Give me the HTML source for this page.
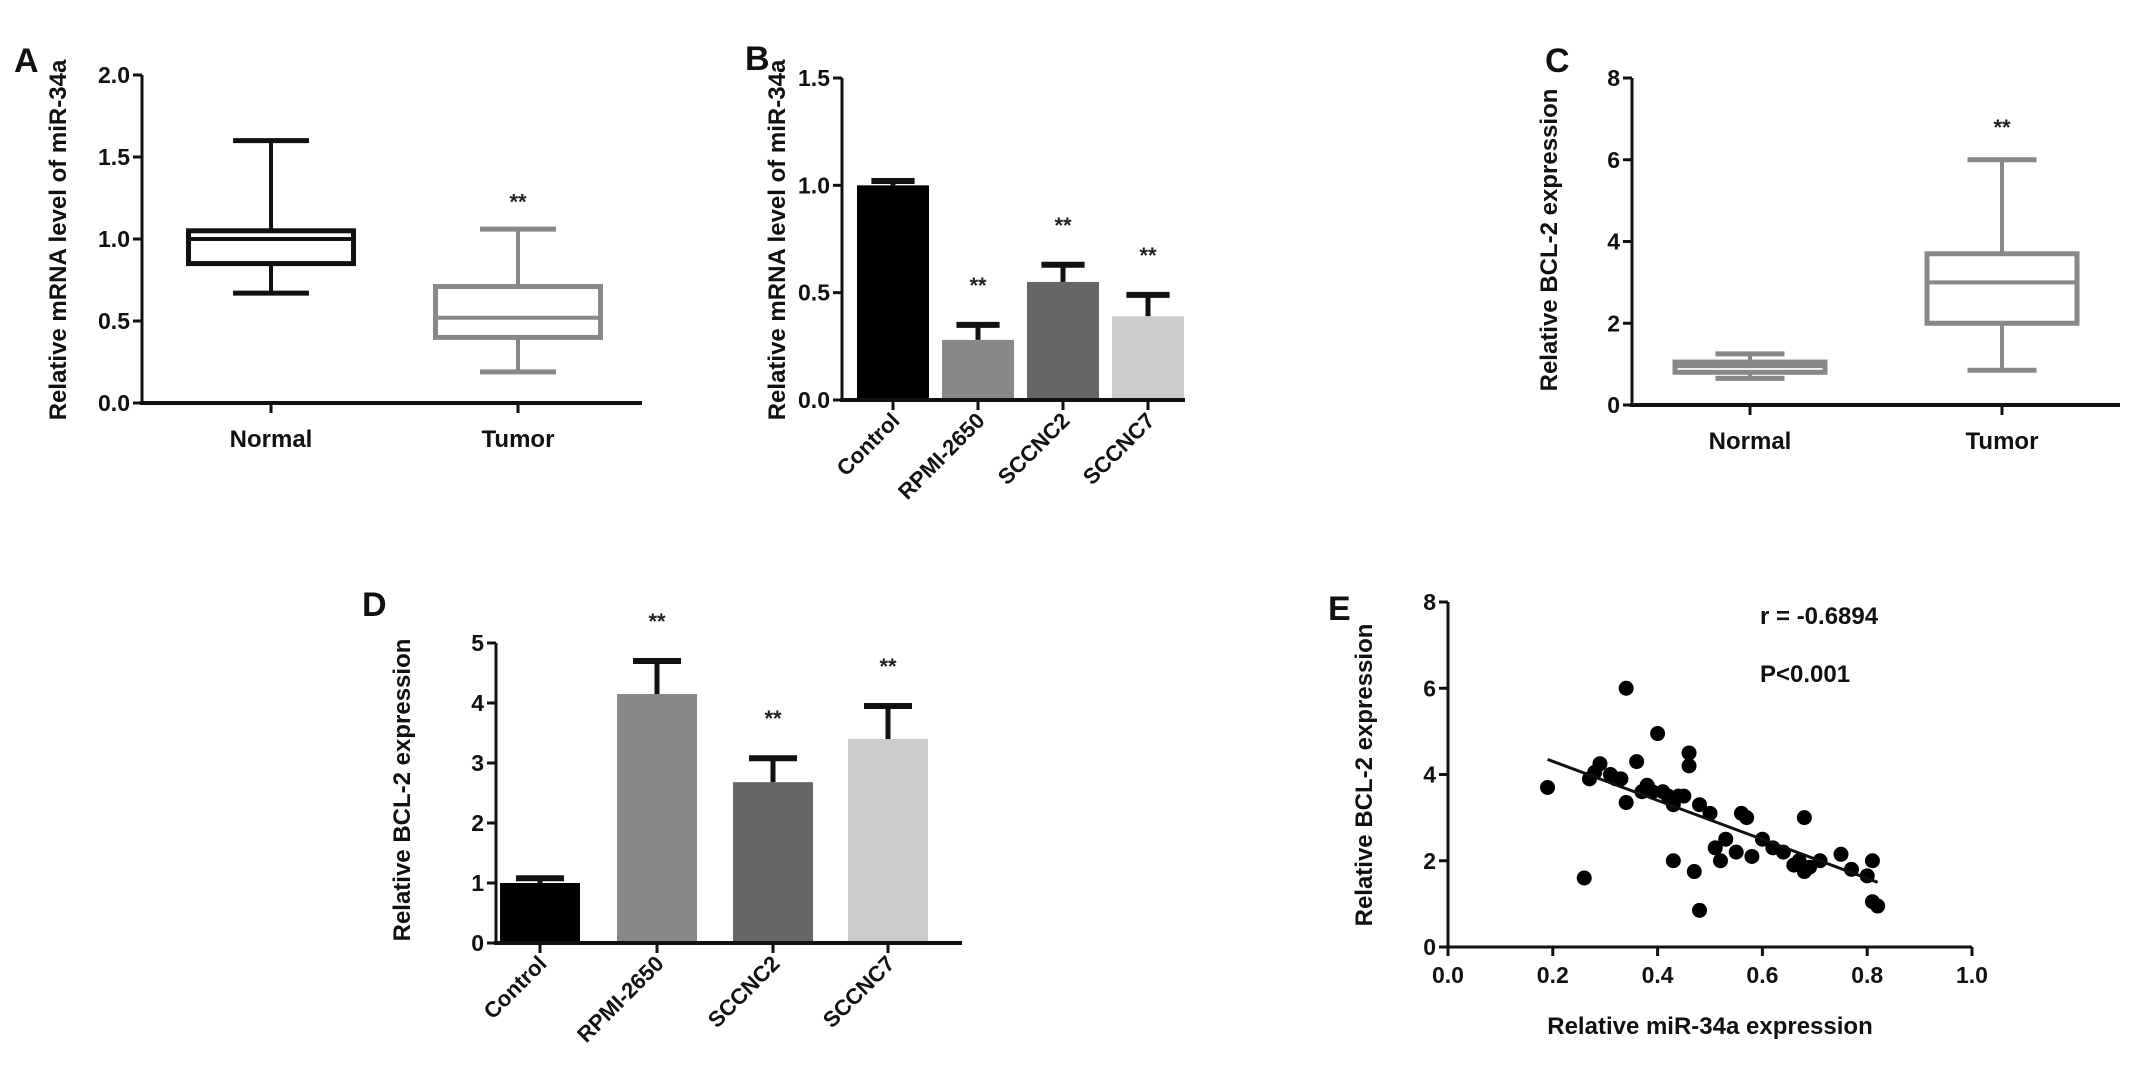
<!DOCTYPE html>
<html><head><meta charset="utf-8">
<style>
html,body{margin:0;padding:0;background:#fff;}
svg{display:block;font-family:"Liberation Sans",Arial,sans-serif;font-weight:bold;}
</style></head>
<body>
<svg id="fig" width="2150" height="1070" viewBox="0 0 2150 1070" xmlns="http://www.w3.org/2000/svg">
<rect width="2150" height="1070" fill="#fff"/>
<g id="root"></g>
</svg>
<script>
// ---- Panel A data ----
const aCats = ["Normal","Tumor"];
const aMin = [0.67, 0.19];
const aQ1 = [0.85, 0.40];
const aMed = [1.0, 0.52];
const aQ3 = [1.05, 0.71];
const aMax = [1.6, 1.06];
const aTicks = ["0.0","0.5","1.0","1.5","2.0"];
// ---- Panel B data ----
const bCats = ["Control","RPMI-2650","SCCNC2","SCCNC7"];
const bVals = [1.0, 0.28, 0.55, 0.39];
const bErr = [0.02, 0.07, 0.08, 0.10];
const bTicks = ["0.0","0.5","1.0","1.5"];
// ---- Panel C data ----
const cCats = ["Normal","Tumor"];
const cMin = [0.65, 0.85];
const cQ1 = [0.8, 2.0];
const cMed = [0.95, 3.0];
const cQ3 = [1.05, 3.7];
const cMax = [1.25, 6.0];
const cTicks = ["0","2","4","6","8"];
// ---- Panel D data ----
const dCats = ["Control","RPMI-2650","SCCNC2","SCCNC7"];
const dVals = [1.0, 4.15, 2.68, 3.4];
const dErr = [0.08, 0.55, 0.40, 0.55];
const dTicks = ["0","1","2","3","4","5"];
// ---- Panel E data ----
const eX = [0.19,0.26,0.27,0.28,0.29,0.31,0.32,0.33,0.34,0.34,0.36,0.37,0.38,0.39,0.40,0.41,0.42,0.43,0.43,0.44,0.45,0.46,0.46,0.47,0.48,0.48,0.50,0.51,0.52,0.53,0.55,0.56,0.57,0.58,0.60,0.62,0.64,0.66,0.67,0.68,0.68,0.69,0.71,0.75,0.77,0.80,0.81,0.81,0.82];
const eY = [3.7,1.6,3.9,4.05,4.25,4.0,3.9,3.9,6.0,3.35,4.3,3.6,3.75,3.6,4.95,3.6,3.5,2.0,3.3,3.5,3.5,4.5,4.2,1.75,0.85,3.3,3.1,2.3,2.0,2.5,2.2,3.1,3.0,2.1,2.5,2.3,2.2,1.9,2.0,3.0,1.75,1.85,2.0,2.15,1.8,1.65,2.0,1.05,0.95];
const eFitX = [0.19, 0.82];
const eFitY = [4.35, 1.5];
const eXTicks = ["0.0","0.2","0.4","0.6","0.8","1.0"];
const eYTicks = ["0","2","4","6","8"];

const NS="http://www.w3.org/2000/svg";
const root=document.getElementById('root');
function mk(tag,attrs,parent){const e=document.createElementNS(NS,tag);for(const k in attrs)e.setAttribute(k,attrs[k]);(parent||root).appendChild(e);return e;}
function txt(s,attrs,parent){const e=mk('text',attrs,parent);e.textContent=s;return e;}
function lin(ax,ay,bx,by,col,w,parent){return mk('line',{x1:ax,y1:ay,x2:bx,y2:by,stroke:col,'stroke-width':w},parent);}

function axes(g,x0,y0,x1,yTop,ticks,yScale,tickVals){
  let e=lin(x0,y0,x0,yTop,'#111',3,g);
  
  
  e=lin(x0-2,y0,x1,y0,'#111',4,g);
  
  
  ticks.forEach((t,i)=>{
    const y=yScale(tickVals[i]);
    lin(x0-9,y,x0,y,'#111',3,g);
    const tl=txt(t,{x:x0-12,y:y+8,'font-size':23,'text-anchor':'end',fill:'#111'},g);
    
    
  });
}
function ylabel(g,s,x,y){
  const t=txt(s,{x:0,y:0,'font-size':24,'text-anchor':'middle',fill:'#111',transform:`translate(${x},${y}) rotate(-90)`},g);
  
  
}
function letter(g,s,x,y){
  const t=txt(s,{x:x,y:y,'font-size':34,fill:'#111'},g);
  
  
}
function stars(g,x,y){
  const t=txt('**',{x:x,y:y,'font-size':22,'text-anchor':'middle',fill:'#222'},g);
  
  
}

function boxPanel(name,L,cats,mn,q1,md,q3,mx,ticks,tickStep,cols,starIdx,starVal){
  const g=mk('g',{});
  
  
  const ys=v=>L.y0-(v/tickStep/(ticks.length-1))*(L.y0-L.yTop);
  const tv=ticks.map((t,i)=>i*tickStep);
  axes(g,L.x0,L.y0,L.x1,L.yTop,ticks,ys,tv);
  cats.forEach((c,i)=>{
    const cx=L.cx[i], w=L.bw, col=cols[i];
    const bg=mk('g',{},g);
    
    
    lin(cx,ys(mx[i]),cx,ys(q3[i]),col,4,bg);
    lin(cx,ys(q1[i]),cx,ys(mn[i]),col,4,bg);
    lin(cx-w*0.23,ys(mx[i]),cx+w*0.23,ys(mx[i]),col,5,bg);
    lin(cx-w*0.23,ys(mn[i]),cx+w*0.23,ys(mn[i]),col,5,bg);
    mk('rect',{x:cx-w/2,y:ys(q3[i]),width:w,height:ys(q1[i])-ys(q3[i]),fill:'none',stroke:col,'stroke-width':5},bg);
    lin(cx-w/2,ys(md[i]),cx+w/2,ys(md[i]),col,4,bg);
    lin(cx,L.y0,cx,L.y0+10,'#111',3,g);
    const xl=txt(c,{x:cx,y:L.y0+44,'font-size':24,'text-anchor':'middle',fill:'#111'},g);
    
    
  });
  stars(g,L.cx[starIdx],ys(starVal));
  return g;
}

function barPanel(name,L,cats,vals,errs,ticks,tickStep,cols){
  const g=mk('g',{});
  
  
  const ys=v=>L.y0-(v/tickStep/(ticks.length-1))*(L.y0-L.yTop);
  const tv=ticks.map((t,i)=>i*tickStep);
  cats.forEach((c,i)=>{
    const cx=L.cx[i], w=L.bw;
    const top=ys(vals[i]), et=ys(vals[i]+errs[i]);
    lin(cx,top,cx,et,'#111',5,g);
    lin(cx-w*0.3,et,cx+w*0.3,et,'#111',6,g);
    const r=mk('rect',{x:cx-w/2,y:top,width:w,height:L.y0-top,fill:cols[i]},g);
    
    
    lin(cx,L.y0,cx,L.y0+10,'#111',3,g);
    const xl=txt(c,{x:0,y:0,'font-size':22,'text-anchor':'end',fill:'#111',transform:`translate(${cx+8},${L.y0+22}) rotate(-45)`},g);
    
    
    if(i>0) stars(g,cx,et-32);
  });
  axes(g,L.x0,L.y0,L.x1,L.yTop,ticks,ys,tv);
  return g;
}

// Panel A
let gA=boxPanel('panel-a-boxplot',{x0:142,y0:403,x1:642,yTop:75,cx:[271,518],bw:165},aCats,aMin,aQ1,aMed,aQ3,aMax,aTicks,0.5,['#111','#888'],1,1.18);
letter(gA,'A',14,72);
ylabel(gA,'Relative mRNA level of miR-34a',66,240);

// Panel B
let gB=barPanel('panel-b-bars',{x0:842,y0:400,x1:1185,yTop:78,cx:[893,978,1063,1148],bw:72},bCats,bVals,bErr,bTicks,0.5,['#000','#888','#666','#ccc']);
letter(gB,'B',745,70);
ylabel(gB,'Relative mRNA level of miR-34a',785,240);

// Panel C
let gC=boxPanel('panel-c-boxplot',{x0:1632,y0:405,x1:2120,yTop:78,cx:[1750,2002],bw:150},cCats,cMin,cQ1,cMed,cQ3,cMax,cTicks,2,['#888','#888'],1,6.6);
letter(gC,'C',1545,72);
ylabel(gC,'Relative BCL-2 expression',1557,240);

// Panel D
let gD=barPanel('panel-d-bars',{x0:496,y0:943,x1:962,yTop:643,cx:[540,657,773,888],bw:80},dCats,dVals,dErr,dTicks,1,['#000','#888','#666','#ccc']);
letter(gD,'D',362,616);
ylabel(gD,'Relative BCL-2 expression',410,790);

// Panel E
const gE=mk('g',{});


const eX0=1448,eX1=1972,eY0=947,eYT=602;
const exs=v=>eX0+v*(eX1-eX0);
const eys=v=>eY0-v/8*(eY0-eYT);
let ax=lin(eX0,eY0,eX0,eYT,'#111',3,gE);


ax=lin(eX0-2,eY0,eX1,eY0,'#111',3,gE);


eYTicks.forEach((t,i)=>{
  const y=eys(i*2);
  lin(eX0-9,y,eX0,y,'#111',3,gE);
  const tl=txt(t,{x:eX0-12,y:y+8,'font-size':23,'text-anchor':'end',fill:'#111'},gE);
  
  
});
eXTicks.forEach((t,i)=>{
  const x=exs(i*0.2);
  lin(x,eY0,x,eY0+9,'#111',3,gE);
  const tl=txt(t,{x:x,y:eY0+36,'font-size':23,'text-anchor':'middle',fill:'#111'},gE);
  
  
});
eX.forEach((v,i)=>{
  const c=mk('circle',{cx:exs(v),cy:eys(eY[i]),r:7.5,fill:'#000'},gE);
  
  
});
const fit=lin(exs(eFitX[0]),eys(eFitY[0]),exs(eFitX[1]),eys(eFitY[1]),'#111',3,gE);


letter(gE,'E',1328,620);
ylabel(gE,'Relative BCL-2 expression',1372,775);
let xt=txt('Relative miR-34a expression',{x:1710,y:1034,'font-size':24,'text-anchor':'middle',fill:'#111'},gE);


let rt=txt('r = -0.6894',{x:1760,y:624,'font-size':24,fill:'#111'},gE);


let pt=txt('P<0.001',{x:1760,y:682,'font-size':24,fill:'#111'},gE);


</script>
</body></html>
